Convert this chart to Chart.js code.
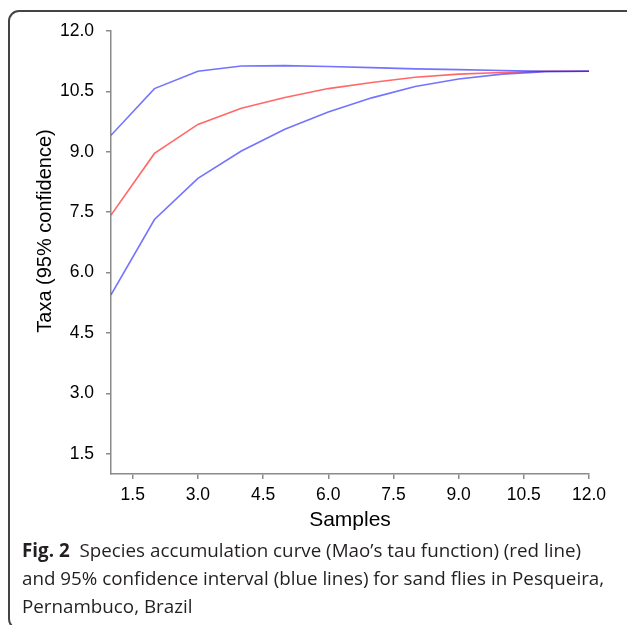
<!DOCTYPE html>
<html>
<head>
<meta charset="utf-8">
<script src="https://cdn.jsdelivr.net/npm/chart.js@4"></script>
<style>
  html, body { margin: 0; padding: 0; background: #fff; }
  body { width: 627px; height: 625px; position: relative; overflow: hidden; }
  #frame { position: absolute; left: 8px; top: 10px; width: 660px; height: 620px;
           border: 2px solid #444; border-radius: 11px; box-sizing: border-box; }
  #wrap { position: absolute; left: 0; top: 0; width: 627px; height: 625px; }
  #caption { position: absolute; left: 22px; top: 536px; width: 605px; white-space: nowrap;
             font-family: "Open Sans", "Noto Sans", sans-serif; font-size: 18.8px; line-height: 28px;
             color: #231f20; }
  #caption b { font-weight: 700; margin-right: 5px; }
</style>
</head>
<body>
<div id="frame"></div>
<div id="wrap"><canvas id="c" width="627" height="625"></canvas></div>
<div id="caption"><b>Fig. 2</b> Species accumulation curve (Mao’s tau function) (red line)<br>and 95% confidence interval (blue lines) for sand flies in Pesqueira,<br>Pernambuco, Brazil</div>
<script>
// Data
const samples = [1, 2, 3, 4, 5, 6, 7, 8, 9, 10, 11, 12];
const taxaMean  = [7.43, 8.96, 9.68, 10.08, 10.35, 10.57, 10.72, 10.85, 10.93, 10.97, 11.0, 11.0];
const taxaUpper = [9.41, 10.57, 11.0, 11.13, 11.14, 11.12, 11.09, 11.06, 11.04, 11.02, 11.0, 11.0];
const taxaLower = [5.45, 7.32, 8.34, 9.02, 9.56, 9.99, 10.34, 10.62, 10.81, 10.93, 10.99, 11.0];
const xTicks = [1.5, 3.0, 4.5, 6.0, 7.5, 9.0, 10.5, 12.0];
const yTicks = [1.5, 3.0, 4.5, 6.0, 7.5, 9.0, 10.5, 12.0];
const xTitle = "Samples";
const yTitle = "Taxa (95% confidence)";

const pts = arr => samples.map((s, i) => ({x: s, y: arr[i]}));
const FONT = '"Liberation Sans", Arial, sans-serif';
const AXIS = '#8a8a8a';

const yTitlePlugin = {
  id: 'yTitlePlugin',
  afterDraw(chart) {
    const ctx = chart.ctx;
    ctx.save();
    ctx.translate(45, 231);
    ctx.rotate(-Math.PI / 2);
    ctx.font = '20px ' + FONT;
    ctx.fillStyle = '#000';
    ctx.textAlign = 'center';
    ctx.textBaseline = 'middle';
    ctx.fillText(yTitle, 0, 0);
    ctx.restore();
  }
};

new Chart(document.getElementById('c'), {
  type: 'line',
  data: {
    datasets: [
      { label: 'Upper 95%', data: pts(taxaUpper), borderColor: 'rgba(40,40,255,0.65)', borderWidth: 1.6, pointRadius: 0, tension: 0 },
      { label: 'Lower 95%', data: pts(taxaLower), borderColor: 'rgba(40,40,255,0.65)', borderWidth: 1.6, pointRadius: 0, tension: 0 },
      { label: 'Mao tau', data: pts(taxaMean), borderColor: 'rgba(255,40,40,0.7)', borderWidth: 1.6, pointRadius: 0, tension: 0 }
    ]
  },
  options: {
    responsive: false,
    animation: false,
    layout: { padding: { left: 0, top: 31, right: 38, bottom: 91 } },
    plugins: { legend: { display: false }, tooltip: { enabled: false } },
    scales: {
      x: {
        type: 'linear', min: 1, max: 12,
        afterBuildTicks: s => { s.ticks = xTicks.map(v => ({value: v})); },
        afterFit: s => { s.height = 60; },
        border: { display: true, color: AXIS, width: 1.5 },
        grid: { display: true, drawOnChartArea: false, drawTicks: true, tickLength: 5, color: AXIS, lineWidth: 1.5 },
        ticks: { padding: 6, color: '#000', font: { family: FONT, size: 17.5 }, maxRotation: 0, autoSkip: false,
                 callback: v => Number(v).toFixed(1) },
        title: { display: true, text: xTitle, color: '#000', font: { family: FONT, size: 21 }, padding: { top: 0, bottom: 1 } }
      },
      y: {
        type: 'linear', min: 1, max: 12,
        afterBuildTicks: s => { s.ticks = yTicks.map(v => ({value: v})); },
        afterFit: s => { s.width = 111; },
        border: { display: true, color: AXIS, width: 1.5 },
        grid: { display: true, drawOnChartArea: false, drawTicks: true, tickLength: 5, color: AXIS, lineWidth: 1.5 },
        ticks: { padding: 12, color: '#000', font: { family: FONT, size: 17.5 }, autoSkip: false,
                 callback: v => Number(v).toFixed(1) }
      }
    }
  },
  plugins: [yTitlePlugin]
});
</script>
</body>
</html>
